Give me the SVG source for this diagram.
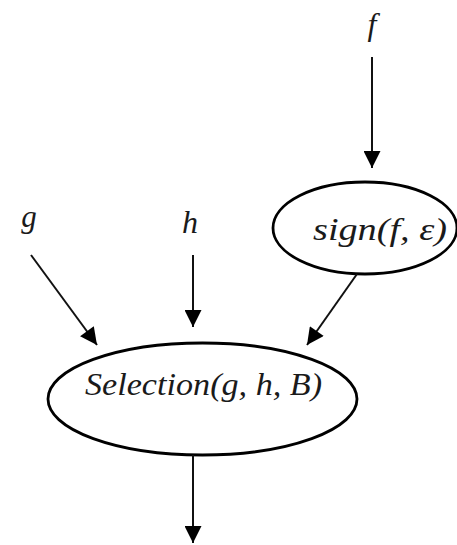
<svg xmlns="http://www.w3.org/2000/svg" width="457" height="545" viewBox="0 0 457 545">
<style>
.lbl{font-family:"Liberation Serif","DejaVu Serif",serif;font-style:italic;fill:#1a1a1a}
.node ellipse{fill:#fff;stroke:#000;stroke-width:2.8}
.edge{stroke:#111;stroke-width:2;fill:none;marker-end:url(#ah)}
</style>
<defs>
<marker id="ah" viewBox="0 0 10 10" refX="10" refY="5" markerUnits="userSpaceOnUse" markerWidth="21" markerHeight="17" orient="auto">
<path d="M0,0 L10,5 L0,10 Z" fill="#000"/>
</marker>
</defs>
<rect width="457" height="545" fill="#fff"/>
<g id="input-f"><text class="lbl" x="372" y="35" font-size="32" text-anchor="middle">f</text></g>
<g id="input-g"><text class="lbl" x="29" y="227" font-size="31" text-anchor="middle">g</text></g>
<g id="input-h"><text class="lbl" x="190" y="233" font-size="32" text-anchor="middle">h</text></g>
<g id="node-sign" class="node">
<ellipse cx="365" cy="228" rx="92" ry="46"/>
<text class="lbl" x="313" y="240" font-size="31" textLength="134" lengthAdjust="spacingAndGlyphs">sign(f, ε)</text>
</g>
<g id="node-selection" class="node">
<ellipse cx="202.5" cy="399" rx="154.5" ry="56"/>
<text class="lbl" x="85" y="395" font-size="32" textLength="237" lengthAdjust="spacingAndGlyphs">Selection(g, h, B)</text>
</g>
<g id="connectors">
<line class="edge" x1="372" y1="57" x2="372" y2="168"/>
<line class="edge" x1="357" y1="274" x2="307" y2="345"/>
<line class="edge" x1="31" y1="255" x2="97" y2="345"/>
<line class="edge" x1="193" y1="255" x2="193" y2="327"/>
<line class="edge" x1="193" y1="455" x2="193" y2="543"/>
</g>
</svg>
